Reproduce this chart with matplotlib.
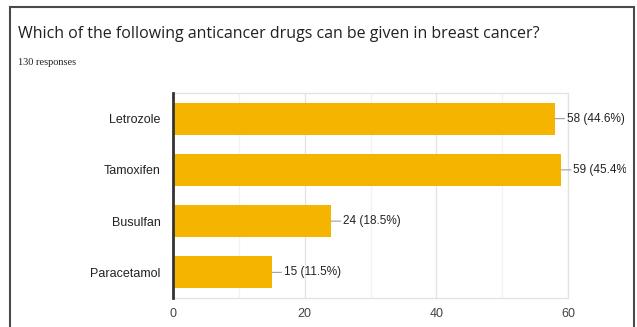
import matplotlib.pyplot as plt
from matplotlib.patches import Rectangle
from matplotlib.transforms import Bbox, TransformedBbox

drugs = ['Letrozole', 'Tamoxifen', 'Busulfan', 'Paracetamol']
counts = [58, 59, 24, 15]
percents = [44.6, 45.4, 18.5, 11.5]
total = 130

bar_color = '#F4B400'

fig = plt.figure(figsize=(6.37, 3.27), dpi=100)
fig.patch.set_facecolor('white')

# card outline around the whole question
fig.patches.append(Rectangle((10 / 637, -0.2), 624 / 637, 1.2 - 7 / 327,
                             transform=fig.transFigure, fill=False,
                             edgecolor='#4a4a4a', linewidth=1.5))

fig.text(18 / 637, 1 - 38 / 327,
         'Which of the following anticancer drugs can be given in breast cancer?',
         family=['Open Sans', 'DejaVu Sans'], fontsize=11.5, color='#202124',
         va='baseline', ha='left')
fig.text(18 / 637, 1 - 65 / 327, f'{total} responses',
         family=['Liberation Serif'], fontsize=7.5, color='#202124',
         va='baseline', ha='left')

ax = fig.add_axes([173 / 637, 1 - 298 / 327, 395 / 637, 205 / 327])
ypos = list(range(len(drugs)))
ax.barh(ypos, counts, height=0.62, color=bar_color, zorder=3)

ax.set_xlim(0, 60)
ax.set_ylim(len(drugs) - 0.5, -0.5)
ax.set_xticks([0, 20, 40, 60])
ax.set_xticks([10, 30, 50], minor=True)
ax.set_yticks(ypos)
ax.set_yticklabels(drugs)

ax.grid(True, axis='x', which='major', color='#e2e2e2', linewidth=0.9, zorder=0)
ax.grid(True, axis='x', which='minor', color='#f2f2f2', linewidth=0.9, zorder=0)

for side in ['top', 'bottom', 'right']:
    ax.spines[side].set_color('#e2e2e2')
    ax.spines[side].set_linewidth(0.9)
ax.spines['left'].set_color('#333333')
ax.spines['left'].set_linewidth(2)
ax.spines['left'].set_zorder(4)

ax.tick_params(axis='both', which='both', length=0)
ax.tick_params(axis='x', pad=7, labelsize=9, labelcolor='#444444')
ax.tick_params(axis='y', pad=9, labelsize=9, labelcolor='#222222')
for lab in ax.get_xticklabels() + ax.get_yticklabels():
    lab.set_family(['Liberation Sans', 'DejaVu Sans'])

# the chart area stops just short of the card edge, so long labels get cut
clip = TransformedBbox(Bbox([[0, 0], [626 / 637, 1]]), fig.transFigure)

for i, (c, p) in enumerate(zip(counts, percents)):
    ax.annotate('', xy=(c, i), xytext=(7, 0), textcoords='offset points',
                arrowprops=dict(arrowstyle='-', color='#a0a0a0', lw=0.8,
                                shrinkA=0, shrinkB=0),
                annotation_clip=False)
    t = ax.annotate(f'{c} ({p}%)', xy=(c, i), xytext=(8.5, 0),
                    textcoords='offset points', va='center', ha='left',
                    fontsize=8.5, color='#222222',
                    family=['Liberation Sans', 'DejaVu Sans'],
                    annotation_clip=False)
    t.set_clip_on(True)
    t.set_clip_box(clip)

fig.savefig('out.png', dpi=100)
